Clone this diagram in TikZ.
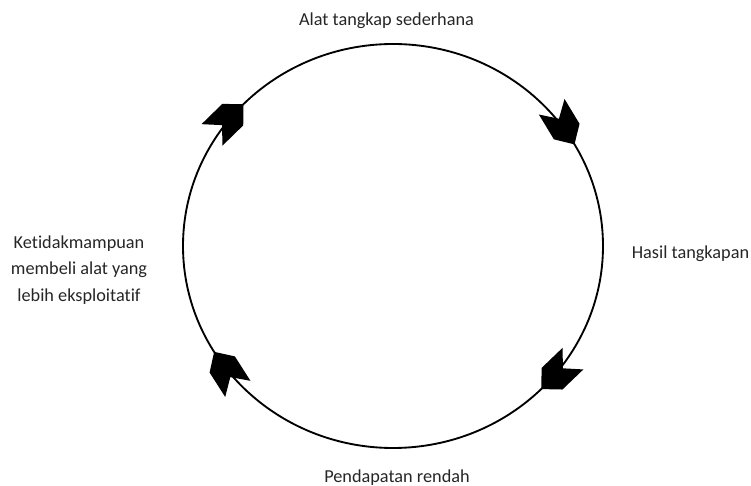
\documentclass[tikz,border=0pt]{standalone}
\usepackage{fontspec}
\setmainfont{Carlito}[Ligatures=NoCommon]
\begin{document}
\begin{tikzpicture}[x=0.75pt, y=0.75pt,
    txt/.style={text=black!85, font=\fontsize{13.7}{20}\selectfont, align=center},
    chevron/.pic={\fill[black] (0,0) -- (-15,15) -- (-44,15) -- (-30,0) -- (-44,-15) -- (-15,-15) -- cycle;}]
  \useasboundingbox (0,0) rectangle (751,486);

  % Cycle
  \coordinate (ctr) at (393,240);
  \draw[line width=1.4pt] (ctr) ellipse [x radius=210, y radius=202];

  % Arrowheads (clockwise)
  \path (ctr) ++(135.4:210 and 202) pic[rotate=44.3] {chevron};
  \path (ctr) ++(30.2:210 and 202) pic[rotate=-58.8] {chevron};
  \path (ctr) ++(-45.1:210 and 202) pic[rotate=-136.2] {chevron};
  \path (ctr) ++(211.6:210 and 202) pic[rotate=122.6] {chevron};

  % Labels
  \node[txt] (tool) at (386.5,465) {Alat tangkap sederhana};
  \node[txt] (catch) at (690.5,232) {Hasil tangkapan};
  \node[txt] (income) at (397,8) {Pendapatan rendah};
  \node[txt] (unable) at (79,216) {Ketidakmampuan\\membeli alat yang\\lebih eksploitatif};
\end{tikzpicture}
\end{document}
